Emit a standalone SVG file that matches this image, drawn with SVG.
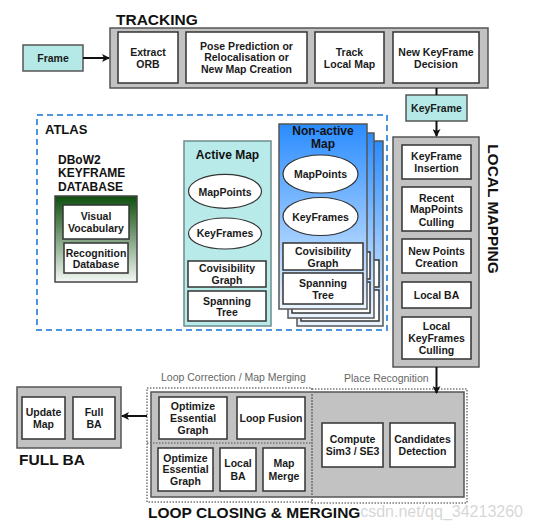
<svg xmlns="http://www.w3.org/2000/svg" width="533" height="529" viewBox="0 0 533 529">
<style>
text{font-family:"Liberation Sans",Arial,sans-serif;}
.b{font-size:10.5px;font-weight:bold;fill:#1a1a1a;text-anchor:middle;}
.title{font-size:15.5px;font-weight:bold;fill:#111;}
.sub{font-size:12px;font-weight:bold;fill:#111;}
.lbl{font-size:10.5px;fill:#666;}
.panel{fill:#c2c2c2;stroke:#555;stroke-width:1.5;}
.wb{fill:#fff;stroke:#333;stroke-width:1.5;}
.cyan{fill:#b5e9e8;stroke:#555;stroke-width:1.5;}
.ell{fill:#fff;stroke:#333;stroke-width:1.2;}
.dot{fill:none;stroke:#777;stroke-width:1.5;stroke-dasharray:1.5,1.5;}
.conn{stroke:#111;stroke-width:2;fill:none;}
</style>
<defs>
<marker id="ah" markerWidth="8" markerHeight="8" refX="7" refY="4" orient="auto" markerUnits="userSpaceOnUse">
<path d="M0,0 L8,4 L0,8 L2,4 Z" fill="#111"/>
</marker>
<linearGradient id="gGreen" x1="0" y1="0" x2="0" y2="1">
<stop offset="0" stop-color="#0d4f0d"/>
<stop offset="1" stop-color="#f4f8f4"/>
</linearGradient>
<linearGradient id="gBlue" x1="0" y1="0" x2="0" y2="1">
<stop offset="0" stop-color="#2a8cff"/>
<stop offset="1" stop-color="#eaf4ff"/>
</linearGradient>
</defs>

<!-- TRACKING -->
<g id="tracking">
<text class="title" x="116" y="25">TRACKING</text>
<rect class="panel" x="110" y="28" width="378" height="60"/>
<rect class="wb" x="118" y="32" width="60" height="51"/>
<text class="b" x="148" y="55.5">Extract</text>
<text class="b" x="148" y="67.5">ORB</text>
<rect class="wb" x="186" y="32" width="121" height="51"/>
<text class="b" x="246.5" y="49.5">Pose Prediction or</text>
<text class="b" x="246.5" y="61.3">Relocalisation or</text>
<text class="b" x="246.5" y="73">New Map Creation</text>
<rect class="wb" x="315" y="32" width="69" height="51"/>
<text class="b" x="349.5" y="55.5">Track</text>
<text class="b" x="349.5" y="67.5">Local Map</text>
<rect class="wb" x="393" y="32" width="86" height="51"/>
<text class="b" x="436" y="55.5">New KeyFrame</text>
<text class="b" x="436" y="67.5">Decision</text>
</g>

<g id="frame">
<rect class="cyan" x="23" y="45" width="60" height="26"/>
<text class="b" x="53" y="62">Frame</text>
</g>

<g id="keyframe">
<rect class="cyan" x="406" y="95" width="61" height="26"/>
<text class="b" x="436.5" y="112">KeyFrame</text>
</g>

<!-- LOCAL MAPPING -->
<g id="local-mapping">
<rect class="panel" x="393" y="137" width="86" height="230"/>
<rect class="wb" x="402" y="145" width="69" height="34"/>
<text class="b" x="436.5" y="159.8">KeyFrame</text>
<text class="b" x="436.5" y="171.8">Insertion</text>
<rect class="wb" x="402" y="187" width="69" height="44"/>
<text class="b" x="436.5" y="201.5">Recent</text>
<text class="b" x="436.5" y="213.3">MapPoints</text>
<text class="b" x="436.5" y="225.5">Culling</text>
<rect class="wb" x="402" y="239" width="69" height="34"/>
<text class="b" x="436.5" y="254.5">New Points</text>
<text class="b" x="436.5" y="266.5">Creation</text>
<rect class="wb" x="402" y="282" width="69" height="26"/>
<text class="b" x="436.5" y="299">Local BA</text>
<rect class="wb" x="402" y="317" width="69" height="42"/>
<text class="b" x="436.5" y="330">Local</text>
<text class="b" x="436.5" y="342">KeyFrames</text>
<text class="b" x="436.5" y="354">Culling</text>
<text class="title" transform="translate(487.5,209) rotate(90)" text-anchor="middle">LOCAL MAPPING</text>
</g>

<!-- ATLAS -->
<g id="atlas">
<rect x="37" y="115" width="350" height="215" fill="none" stroke="#4a94e0" stroke-width="2" stroke-dasharray="6,4"/>
<text x="45" y="134" font-size="13" font-weight="bold" fill="#111">ATLAS</text>
</g>

<g id="dbow2">
<text class="sub" x="58" y="163.5">DBoW2</text>
<text class="sub" x="58" y="177">KEYFRAME</text>
<text class="sub" x="58" y="191">DATABASE</text>
<rect x="55" y="196" width="82" height="86" fill="url(#gGreen)" stroke="#444" stroke-width="1.5"/>
<rect class="wb" x="63" y="205" width="66" height="34"/>
<text class="b" x="96" y="219.8">Visual</text>
<text class="b" x="96" y="231.5">Vocabulary</text>
<rect class="wb" x="64" y="243" width="64" height="30"/>
<text class="b" x="96" y="256.5">Recognition</text>
<text class="b" x="96" y="268">Database</text>
</g>

<g id="active-map">
<rect x="184" y="141" width="87" height="185" fill="#b8eaea" stroke="#6e8c8c" stroke-width="1.5"/>
<text class="sub" x="227.5" y="159" text-anchor="middle">Active Map</text>
<ellipse class="ell" cx="225" cy="191.3" rx="36.5" ry="17"/>
<text class="b" x="225" y="195.5">MapPoints</text>
<ellipse class="ell" cx="225" cy="233.5" rx="36.5" ry="15.5"/>
<text class="b" x="225" y="237">KeyFrames</text>
<rect class="wb" x="188" y="261" width="78" height="26"/>
<text class="b" x="227" y="271.5">Covisibility</text>
<text class="b" x="227" y="283.8">Graph</text>
<rect class="wb" x="188" y="291" width="78" height="30"/>
<text class="b" x="227" y="304.8">Spanning</text>
<text class="b" x="227" y="316">Tree</text>
</g>

<g id="non-active-map">
<rect x="297" y="141" width="86" height="185" fill="url(#gBlue)" stroke="#555" stroke-width="1.5"/>
<rect class="wb" x="301" y="260" width="78" height="27"/>
<rect class="wb" x="301" y="290" width="78" height="31"/>
<rect x="288" y="133" width="86" height="185" fill="url(#gBlue)" stroke="#555" stroke-width="1.5"/>
<rect class="wb" x="292" y="252" width="78" height="27"/>
<rect class="wb" x="292" y="282" width="78" height="31"/>
<rect x="279" y="124" width="88" height="185" fill="url(#gBlue)" stroke="#555" stroke-width="1.5"/>
<text class="sub" x="323" y="134.5" text-anchor="middle">Non-active</text>
<text class="sub" x="323" y="148" text-anchor="middle">Map</text>
<ellipse class="ell" cx="320.5" cy="174" rx="37.5" ry="19"/>
<text class="b" x="320.5" y="178">MapPoints</text>
<ellipse class="ell" cx="320.5" cy="216.5" rx="37.5" ry="19"/>
<text class="b" x="320.5" y="220.5">KeyFrames</text>
<rect class="wb" x="283" y="243" width="80" height="27"/>
<text class="b" x="323" y="254.8">Covisibility</text>
<text class="b" x="323" y="267">Graph</text>
<rect class="wb" x="283" y="273" width="80" height="31"/>
<text class="b" x="323" y="287">Spanning</text>
<text class="b" x="323" y="298.8">Tree</text>
</g>

<!-- LOOP CLOSING -->
<g id="loop-closing">
<rect class="panel" x="151" y="392" width="313" height="105"/>
<rect class="dot" x="147" y="388" width="165" height="114"/>
<line class="dot" x1="147" y1="443" x2="312" y2="443"/>
<rect class="dot" x="312" y="389" width="155" height="114"/>
<text class="lbl" x="161" y="381">Loop Correction / Map Merging</text>
<text class="lbl" x="344" y="382">Place Recognition</text>
<rect class="wb" x="159" y="397" width="68" height="42"/>
<text class="b" x="193" y="409.8">Optimize</text>
<text class="b" x="193" y="422">Essential</text>
<text class="b" x="193" y="433.8">Graph</text>
<rect class="wb" x="237" y="397" width="68" height="42"/>
<text class="b" x="271" y="422">Loop Fusion</text>
<rect class="wb" x="158" y="448" width="55" height="43"/>
<text class="b" x="185.5" y="461.5">Optimize</text>
<text class="b" x="185.5" y="473">Essential</text>
<text class="b" x="185.5" y="484.8">Graph</text>
<rect class="wb" x="220" y="448" width="36" height="43"/>
<text class="b" x="238" y="467">Local</text>
<text class="b" x="238" y="479.5">BA</text>
<rect class="wb" x="263" y="448" width="42" height="43"/>
<text class="b" x="284" y="467">Map</text>
<text class="b" x="284" y="479.5">Merge</text>
<rect class="wb" x="322" y="423" width="61" height="44"/>
<text class="b" x="352.5" y="443">Compute</text>
<text class="b" x="352.5" y="455">Sim3 / SE3</text>
<rect class="wb" x="390" y="423" width="65" height="44"/>
<text class="b" x="422.5" y="443">Candidates</text>
<text class="b" x="422.5" y="455">Detection</text>
<text class="title" x="148" y="518">LOOP CLOSING &amp; MERGING</text>
</g>

<!-- FULL BA -->
<g id="full-ba">
<rect class="panel" x="17" y="387" width="104" height="61"/>
<rect class="wb" x="22" y="397" width="43" height="42"/>
<text class="b" x="43.5" y="416">Update</text>
<text class="b" x="43.5" y="428">Map</text>
<rect class="wb" x="73" y="397" width="42" height="42"/>
<text class="b" x="94" y="416">Full</text>
<text class="b" x="94" y="428">BA</text>
<text class="title" x="19" y="465">FULL BA</text>
</g>

<!-- CONNECTORS -->
<g id="connectors">
<line class="conn" x1="83" y1="58" x2="109" y2="58" marker-end="url(#ah)"/>
<line class="conn" x1="436.5" y1="88" x2="436.5" y2="95"/>
<line class="conn" x1="436.5" y1="121" x2="436.5" y2="136" marker-end="url(#ah)"/>
<line class="conn" x1="436.5" y1="367" x2="436.5" y2="393" marker-end="url(#ah)"/>
<line class="conn" x1="147" y1="416" x2="122" y2="416" marker-end="url(#ah)"/>
</g>

<text x="523" y="517" font-size="16" fill="#cfcfcf" fill-opacity="0.85" text-anchor="end">csdn.net/qq_34213260</text>
</svg>
